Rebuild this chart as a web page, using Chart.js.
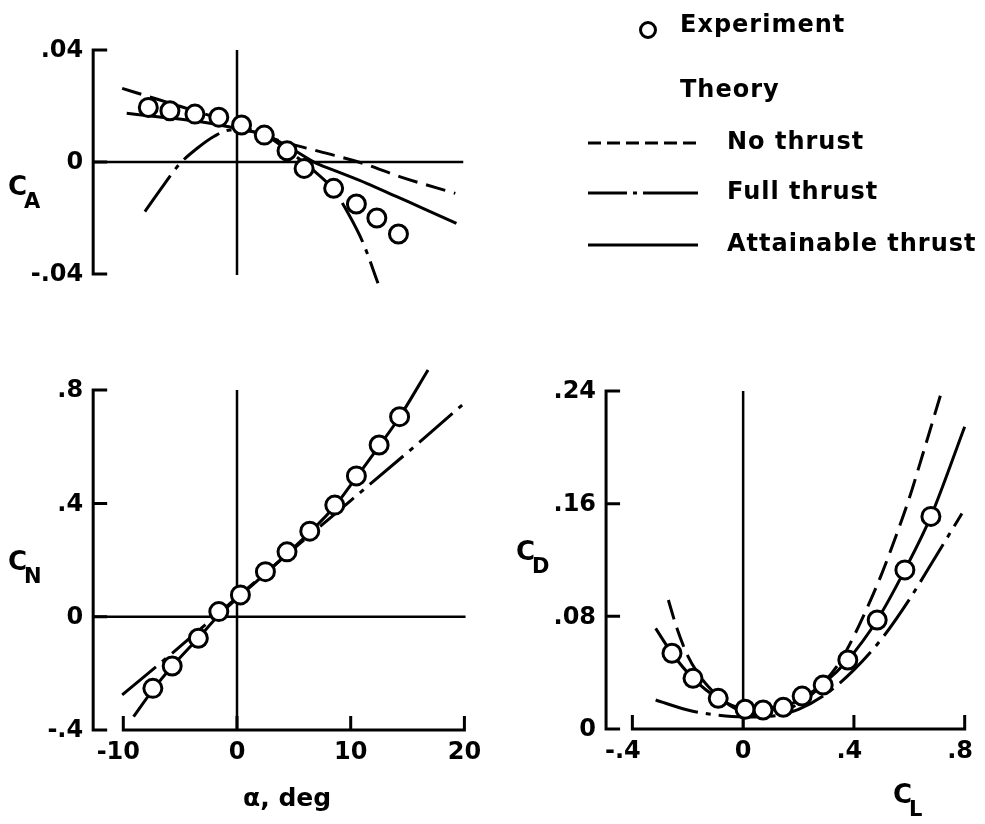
<!DOCTYPE html>
<html>
<head>
<meta charset="utf-8">
<script src="https://cdn.jsdelivr.net/npm/chart.js@4.4.0/dist/chart.umd.min.js"></script>
<style>
  body { margin: 0; background: #fff; }
  #wrap { position: relative; width: 985px; height: 824px; }
  #wrap canvas { position: absolute; left: 0; top: 0; }
</style>
</head>
<body>
<div id="wrap">
  <canvas id="chart-ca" width="985" height="824"></canvas>
  <canvas id="chart-cn" width="985" height="824"></canvas>
  <canvas id="chart-cd" width="985" height="824"></canvas>
</div>
<script>
// --- Data ---

// Axial force coefficient vs angle of attack
const alphaCA = [-7.8, -5.9, -3.7, -1.6, 0.4, 2.4, 4.4, 5.9, 8.5, 10.5, 12.3, 14.2];
const caExperiment = [0.0195, 0.0183, 0.0171, 0.016, 0.0132, 0.0096, 0.004, -0.0023, -0.0094, -0.015, -0.020, -0.0257];
const alphaCANoThrust = [-10.1, -7, -4, -1, 1, 3.5, 7.3, 11.1, 14.3, 19.2];
const caNoThrust = [0.0263, 0.0224, 0.0186, 0.0148, 0.0118, 0.0079, 0.0037, -0.0005, -0.0052, -0.0112];
const alphaCAFull = [-8.1, -6.5, -5.0, -3.5, -2.0, -0.6, 1.0, 2.5, 4.4, 6.7, 8.5, 9.8, 11.1, 12.4];
const caFullThrust = [-0.0177, -0.0085, -0.0005, 0.0049, 0.0092, 0.0114, 0.0112, 0.0095, 0.0043, -0.0029, -0.010, -0.0185, -0.029, -0.0433];
const alphaCAAttain = [-9.7, -7, -4, -1, 1, 3, 5, 7, 9, 11.4, 14, 16.5, 19.3];
const caAttainable = [0.0174, 0.0162, 0.0148, 0.0128, 0.0112, 0.0087, 0.0043, -0.0005, -0.0037, -0.0076, -0.0123, -0.0168, -0.0219];

// Normal force coefficient vs angle of attack
const alphaCN = [-7.4, -5.7, -3.4, -1.6, 0.3, 2.5, 4.4, 6.4, 8.6, 10.5, 12.5, 14.3];
const cnExperiment = [-0.253, -0.174, -0.076, 0.018, 0.077, 0.159, 0.229, 0.302, 0.394, 0.497, 0.606, 0.706];
const alphaCNFull = [-10.1, -5, 0, 5, 10, 15, 19.8];
const cnFullThrust = [-0.276, -0.105, 0.068, 0.240, 0.410, 0.580, 0.747];
const alphaCNAttain = [-9.1, -7.4, -5.7, -3.4, -1.6, 0.3, 2.5, 4.4, 6.4, 8.6, 10.5, 12.5, 14.3, 16.8];
const cnAttainable = [-0.353, -0.258, -0.175, -0.075, 0.005, 0.075, 0.152, 0.222, 0.298, 0.390, 0.492, 0.602, 0.705, 0.871];

// Drag coefficient vs lift coefficient
const clExperiment = [-0.257, -0.181, -0.090, 0.007, 0.072, 0.145, 0.213, 0.289, 0.378, 0.484, 0.584, 0.678];
const cdExperiment = [0.0538, 0.036, 0.0218, 0.014, 0.0135, 0.0154, 0.0234, 0.0312, 0.049, 0.0774, 0.113, 0.151];
const clNoThrust = [-0.27, -0.24, -0.20, -0.15, -0.10, -0.05, 0, 0.05, 0.10, 0.15, 0.20, 0.25, 0.30, 0.35, 0.40, 0.45, 0.50, 0.55, 0.60, 0.65, 0.714];
const cdNoThrust = [0.0916, 0.072, 0.052, 0.036, 0.025, 0.017, 0.012, 0.010, 0.011, 0.013, 0.018, 0.025, 0.035, 0.048, 0.066, 0.087, 0.110, 0.136, 0.164, 0.196, 0.238];
const clFullThrust = [-0.316, -0.2, -0.1, 0, 0.1, 0.2, 0.3, 0.4, 0.5, 0.6, 0.7, 0.79];
const cdFullThrust = [0.0206, 0.0135, 0.010, 0.0085, 0.009, 0.014, 0.025, 0.042, 0.064, 0.092, 0.124, 0.153];
const clAttainable = [-0.316, -0.257, -0.181, -0.090, 0.007, 0.072, 0.145, 0.213, 0.289, 0.378, 0.484, 0.584, 0.678, 0.80];
const cdAttainable = [0.0715, 0.0538, 0.036, 0.0218, 0.014, 0.0135, 0.0154, 0.022, 0.032, 0.049, 0.0774, 0.113, 0.151, 0.2147];

// Tick values and labels
const caTicks = [-0.04, 0, 0.04];
const caTickLabels = ['-.04', '0', '.04'];
const cnTicks = [-0.4, 0, 0.4, 0.8];
const cnTickLabels = ['-.4', '0', '.4', '.8'];
const alphaTicks = [-10, 0, 10, 20];
const alphaTickLabels = ['-10', '0', '10', '20'];
const cdTicks = [0, 0.08, 0.16, 0.24];
const cdTickLabels = ['0', '.08', '.16', '.24'];
const clTicks = [-0.4, 0, 0.4, 0.8];
const clTickLabels = ['-.4', '0', '.4', '.8'];

// --- Drawing setup ---
const W = 985, H = 824;
const FONT = '"DejaVu Sans", "Liberation Sans", sans-serif';
const INK = '#000';
const DASHED = [20, 9];
const DASH_DOT = [44, 8, 5, 8];

function pts(xs, ys) {
  return xs.map((x, i) => ({ x, y: ys[i] }));
}

function experimentSet(xs, ys) {
  return {
    label: 'Experiment',
    data: pts(xs, ys),
    showLine: false,
    pointRadius: 9,
    pointBorderWidth: 3,
    pointBackgroundColor: '#fff',
    pointBorderColor: INK,
  };
}

function curveSet(label, xs, ys, dash) {
  return {
    label,
    data: pts(xs, ys),
    showLine: true,
    borderColor: INK,
    borderWidth: 3,
    borderDash: dash,
    borderCapStyle: 'butt',
    pointRadius: 0,
    cubicInterpolationMode: 'monotone',
    fill: false,
  };
}

// padding so the plot area lands where the figure has it
// map: pixel of value 0 and pixels per unit for each axis
function padFor(map, xr, yr) {
  return {
    left: map.x0 + map.kx * xr[0],
    right: W - (map.x0 + map.kx * xr[1]),
    top: map.y0 - map.ky * yr[1],
    bottom: H - (map.y0 - map.ky * yr[0]),
  };
}

function drawSubLabel(ctx, main, sub, x, y) {
  ctx.save();
  ctx.fillStyle = INK;
  ctx.textBaseline = 'alphabetic';
  ctx.textAlign = 'left';
  ctx.font = 'bold 26px ' + FONT;
  ctx.fillText(main, x, y);
  const w = ctx.measureText(main).width;
  ctx.font = 'bold 21px ' + FONT;
  ctx.fillText(sub, x + w - 3, y + 13);
  ctx.restore();
}

// digits (without leading sign/point) get centred on the tick
function drawXTickLabel(ctx, label, px, py) {
  const core = label.replace(/^[-.]+/, '');
  const wCore = ctx.measureText(core).width;
  ctx.textAlign = 'right';
  ctx.fillText(label, px + wCore / 2, py);
}

const panelAxes = {
  id: 'panelAxes',
  beforeDatasetsDraw(chart, _args, cfg) {
    const ctx = chart.ctx;
    const xs = chart.scales.x;
    const ys = chart.scales.y;
    const TICK = 14;
    ctx.save();
    ctx.strokeStyle = INK;
    ctx.fillStyle = INK;
    ctx.lineCap = 'butt';

    // y axis with inward ticks
    const axX = xs.getPixelForValue(cfg.yAxisAt);
    ctx.lineWidth = 3;
    ctx.beginPath();
    ctx.moveTo(axX, ys.getPixelForValue(cfg.yTicks[cfg.yTicks.length - 1]) - 1.5);
    ctx.lineTo(axX, ys.getPixelForValue(cfg.yTicks[0]) + 1.5);
    cfg.yTicks.forEach((v) => {
      const py = ys.getPixelForValue(v);
      ctx.moveTo(axX, py);
      ctx.lineTo(axX + TICK, py);
    });
    ctx.stroke();

    ctx.font = 'bold 24px ' + FONT;
    ctx.textAlign = 'right';
    ctx.textBaseline = 'middle';
    cfg.yTicks.forEach((v, i) => {
      ctx.fillText(cfg.yTickLabels[i], axX - 10, ys.getPixelForValue(v) + 1);
    });

    // x axis (bottom panels only) with inward ticks
    if (cfg.xTicks) {
      const axY = ys.getPixelForValue(cfg.xAxisAt);
      ctx.beginPath();
      ctx.moveTo(xs.getPixelForValue(cfg.xTicks[0]) - 1.5, axY);
      ctx.lineTo(xs.getPixelForValue(cfg.xTicks[cfg.xTicks.length - 1]) + 1.5, axY);
      cfg.xTicks.forEach((v) => {
        const px = xs.getPixelForValue(v);
        ctx.moveTo(px, axY);
        ctx.lineTo(px, axY - TICK);
      });
      ctx.stroke();
      ctx.textBaseline = 'middle';
      cfg.xTicks.forEach((v, i) => {
        drawXTickLabel(ctx, cfg.xTickLabels[i], xs.getPixelForValue(v), axY + 23);
      });
    }

    // zero reference lines
    ctx.lineWidth = 2.5;
    ctx.beginPath();
    if (cfg.hLine) {
      const py = ys.getPixelForValue(cfg.hLine.at);
      ctx.moveTo(xs.getPixelForValue(cfg.hLine.from), py);
      ctx.lineTo(xs.getPixelForValue(cfg.hLine.to), py);
    }
    if (cfg.vLine) {
      const px = xs.getPixelForValue(cfg.vLine.at);
      ctx.moveTo(px, ys.getPixelForValue(cfg.vLine.from));
      ctx.lineTo(px, ys.getPixelForValue(cfg.vLine.to));
    }
    ctx.stroke();
    ctx.restore();

    // axis titles
    if (cfg.yTitle) drawSubLabel(ctx, cfg.yTitle.main, cfg.yTitle.sub, cfg.yTitle.x, cfg.yTitle.y);
    if (cfg.xTitle) {
      if (cfg.xTitle.sub) {
        drawSubLabel(ctx, cfg.xTitle.main, cfg.xTitle.sub, cfg.xTitle.x, cfg.xTitle.y);
      } else {
        ctx.save();
        ctx.fillStyle = INK;
        ctx.font = 'bold 25px ' + FONT;
        ctx.textAlign = 'left';
        ctx.textBaseline = 'alphabetic';
        ctx.fillText(cfg.xTitle.main, cfg.xTitle.x, cfg.xTitle.y);
        ctx.restore();
      }
    }
  },
  afterDraw(chart, _args, cfg) {
    if (!cfg.legend) return;
    const ctx = chart.ctx;
    ctx.save();
    ctx.strokeStyle = INK;
    ctx.fillStyle = INK;
    ctx.font = 'bold 24px ' + FONT;
    ctx.letterSpacing = '1px';
    ctx.textAlign = 'left';
    ctx.textBaseline = 'alphabetic';

    ctx.lineWidth = 3;
    ctx.beginPath();
    ctx.arc(648, 30, 7.5, 0, Math.PI * 2);
    ctx.stroke();
    ctx.fillText('Experiment', 680, 32);
    ctx.fillText('Theory', 680, 97);

    const rows = [
      { text: 'No thrust', y: 143, dash: [13, 6] },
      { text: 'Full thrust', y: 193, dash: [39, 6, 4, 6, 60, 0] },
      { text: 'Attainable thrust', y: 245, dash: [] },
    ];
    rows.forEach((r) => {
      ctx.setLineDash(r.dash);
      ctx.beginPath();
      ctx.moveTo(588, r.y);
      ctx.lineTo(698, r.y);
      ctx.stroke();
      ctx.fillText(r.text, 727, r.y + 6);
    });
    ctx.restore();
  },
};

Chart.register(panelAxes);

function makeChart(id, datasets, map, xr, yr, axesCfg) {
  return new Chart(document.getElementById(id), {
    type: 'scatter',
    data: { datasets },
    options: {
      responsive: false,
      animation: false,
      events: [],
      layout: { padding: padFor(map, xr, yr) },
      scales: {
        x: { type: 'linear', display: false, min: xr[0], max: xr[1] },
        y: { type: 'linear', display: false, min: yr[0], max: yr[1] },
      },
      plugins: {
        legend: { display: false },
        tooltip: { enabled: false },
        panelAxes: axesCfg,
      },
    },
  });
}

const alphaMapTop = { x0: 237, kx: 11.37, y0: 162, ky: 2800 };
const alphaMapBottom = { x0: 237, kx: 11.37, y0: 616.7, ky: 283.3 };
const clMap = { x0: 746.3, kx: 283.3, y0: 729, ky: 1408 };

makeChart('chart-ca', [
  experimentSet(alphaCA, caExperiment),
  curveSet('No thrust', alphaCANoThrust, caNoThrust, DASHED),
  curveSet('Full thrust', alphaCAFull, caFullThrust, DASH_DOT),
  curveSet('Attainable thrust', alphaCAAttain, caAttainable, []),
], alphaMapTop, [-12.65, 20.6], [-0.05, 0.046], {
  yAxisAt: -12.65,
  yTicks: caTicks,
  yTickLabels: caTickLabels,
  hLine: { at: 0, from: -12.65, to: 19.9 },
  vLine: { at: 0, from: 0.04, to: -0.0404 },
  yTitle: { main: 'C', sub: 'A', x: 8, y: 195 },
  legend: true,
});

makeChart('chart-cn', [
  experimentSet(alphaCN, cnExperiment),
  curveSet('Full thrust', alphaCNFull, cnFullThrust, DASH_DOT),
  curveSet('Attainable thrust', alphaCNAttain, cnAttainable, []),
], alphaMapBottom, [-12.65, 20.6], [-0.42, 0.9], {
  yAxisAt: -12.65,
  yTicks: cnTicks,
  yTickLabels: cnTickLabels,
  xAxisAt: -0.4,
  xTicks: alphaTicks,
  xTickLabels: alphaTickLabels,
  hLine: { at: 0, from: -12.65, to: 20.1 },
  vLine: { at: 0, from: 0.8, to: -0.4 },
  yTitle: { main: 'C', sub: 'N', x: 8, y: 570 },
  xTitle: { main: 'α, deg', x: 243, y: 806 },
});

makeChart('chart-cd', [
  experimentSet(clExperiment, cdExperiment),
  curveSet('No thrust', clNoThrust, cdNoThrust, DASHED),
  curveSet('Full thrust', clFullThrust, cdFullThrust, DASH_DOT),
  curveSet('Attainable thrust', clAttainable, cdAttainable, []),
], clMap, [-0.495, 0.83], [-0.006, 0.246], {
  yAxisAt: -0.495,
  yTicks: cdTicks,
  yTickLabels: cdTickLabels,
  xAxisAt: 0,
  xTicks: clTicks,
  xTickLabels: clTickLabels,
  vLine: { at: 0, from: 0.24, to: 0 },
  yTitle: { main: 'C', sub: 'D', x: 516, y: 560 },
  xTitle: { main: 'C', sub: 'L', x: 893, y: 803 },
});
</script>
</body>
</html>
